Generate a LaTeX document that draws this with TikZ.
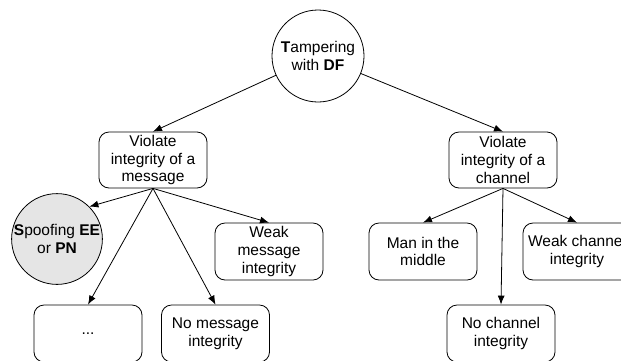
\documentclass[tikz,border=0pt]{standalone}
\usepackage{fontspec}
\setmainfont{Liberation Sans}
\usetikzlibrary{arrows.meta}
\begin{document}
\begin{tikzpicture}[x=1pt, y=-1pt, line join=round, line cap=round,
  font=\fontsize{15.5}{17.7}\selectfont, >={Latex[length=9pt,width=7pt]},
  leaf/.style={draw, line width=0.8pt, rounded corners=10pt, align=center,
    minimum width=108pt, minimum height=56pt, inner sep=0pt},
  goal/.style={draw, line width=0.8pt, circle, align=center, inner sep=0pt},
  edge/.style={->, line width=0.8pt}]
 \clip (0,0) rectangle (621,360);
 \node[goal, minimum size=92pt] (root) at (318,56) {\textbf{T}ampering\\with \textbf{DF}};
 \node[leaf] (msg) at (153,160) {Violate\\integrity of a\\message};
 \node[leaf] (chan) at (503,160) {Violate\\integrity of a\\channel};
 \node[goal, fill=black!10, minimum size=88pt] (spoof) at (57,239) {\textbf{S}poofing \textbf{EE}\\or \textbf{PN}};
 \node[leaf, minimum height=57pt] (weakmsg) at (269,251.5) {Weak\\message\\integrity};
 \node[leaf, minimum height=57pt] (dots) at (88,333.5) {...};
 \node[leaf, minimum height=57pt] (nomsg) at (215.5,333.5) {No message\\integrity};
 \node[leaf, minimum height=57pt] (mitm) at (423,251.5) {Man in the\\middle};
 \node[leaf, minimum height=57pt] (weakchan) at (577,251.5) {Weak channel\\integrity};
 \node[leaf, minimum height=57pt] (nochan) at (501,333.5) {No channel\\integrity};
 \draw[edge] (root) -- (msg.north);
 \draw[edge] (root) -- (chan.north);
 \draw[edge] (msg.south) -- (spoof.north east);
 \draw[edge] (msg.south) -- (dots.north);
 \draw[edge] (msg.south) -- (nomsg.north);
 \draw[edge] (msg.south) -- (weakmsg.north);
 \draw[edge] (chan.south) -- (mitm.north);
 \draw[edge] (chan.south) -- (nochan.north);
 \draw[edge] (chan.south) -- (weakchan.north);
\end{tikzpicture}
\end{document}
